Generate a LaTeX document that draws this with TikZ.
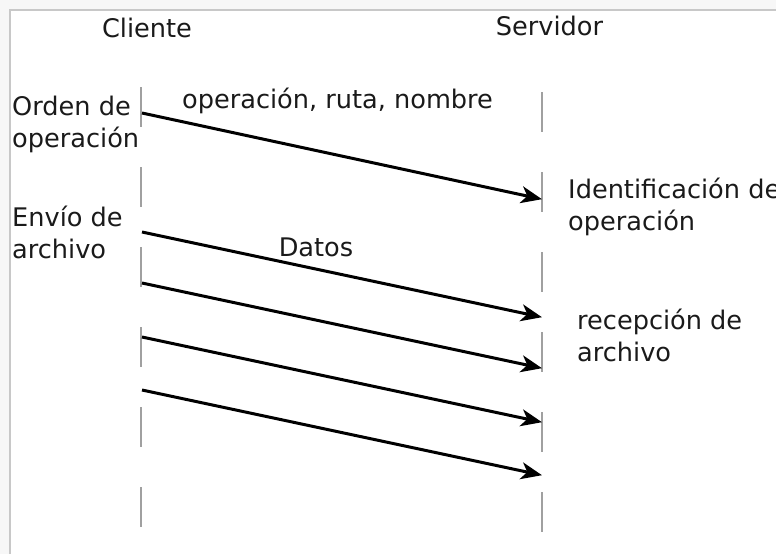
\documentclass[tikz,border=0pt]{standalone}
\usepackage{fontspec}
\setmainfont{DejaVu Sans}
\usetikzlibrary{arrows.meta}
\definecolor{outbg}{HTML}{F7F7F7}
\definecolor{framegray}{HTML}{C8C8C8}
\definecolor{lifegray}{HTML}{A0A0A0}
\definecolor{txtgray}{HTML}{1A1A1A}
\tikzset{
  lbl/.style={anchor=base west, inner sep=0pt, text=txtgray, font=\fontsize{25.6}{31.5}\selectfont, align=left},
  clbl/.style={anchor=base, inner sep=0pt, text=txtgray, font=\fontsize{25.6}{31.5}\selectfont},
  lifeline/.style={draw=lifegray, line width=1.8pt, dash pattern=on 40pt off 40pt},
  msg/.style={draw=black, line width=3pt, -{Stealth[length=21pt, width=17pt, inset=6pt]}, shorten >=-1pt}
}
\begin{document}
\begin{tikzpicture}[x=1pt, y=-1pt]
\useasboundingbox (0,0) rectangle (776,554);
\fill[outbg] (0,0) rectangle (776,554);
\fill[white] (10,10) rectangle (776,554);
\draw[framegray, line width=2pt] (10,554) -- (10,10) -- (776,10);
% lifelines
\coordinate (ctop) at (141,87);
\coordinate (cbot) at (141,528);
\coordinate (stop) at (542,92);
\coordinate (sbot) at (542,532);
\draw[lifeline] (ctop) -- (cbot);
\draw[lifeline] (stop) -- (sbot);
% headers
\node[clbl] (cliente) at (147,37) {Cliente};
\node[clbl] (servidor) at (549.5,35) {Servidor};
% labels (base = baseline of last line)
\node[lbl] (orden) at (12,147) {Orden de\\operación};
\node[lbl] (envio) at (12,258) {Envío de\\archivo};
\node[lbl] (ident) at (568,230) {Identificación de\\operación};
\node[lbl] (recep) at (577,361) {recepción de\\archivo};
\node[clbl] (ops) at (337.5,108) {operación, ruta, nombre};
\node[clbl] (datos) at (316,256) {Datos};
% message endpoints
\coordinate (a1) at (142,113); \coordinate (b1) at (541,199);
\coordinate (a2) at (142,232); \coordinate (b2) at (541,317);
\coordinate (a3) at (142,283); \coordinate (b3) at (541,368);
\coordinate (a4) at (142,337); \coordinate (b4) at (541,422);
\coordinate (a5) at (142,390); \coordinate (b5) at (541,475);
\draw[msg] (a1) -- (b1);
\draw[msg] (a2) -- (b2);
\draw[msg] (a3) -- (b3);
\draw[msg] (a4) -- (b4);
\draw[msg] (a5) -- (b5);
\end{tikzpicture}
\end{document}
